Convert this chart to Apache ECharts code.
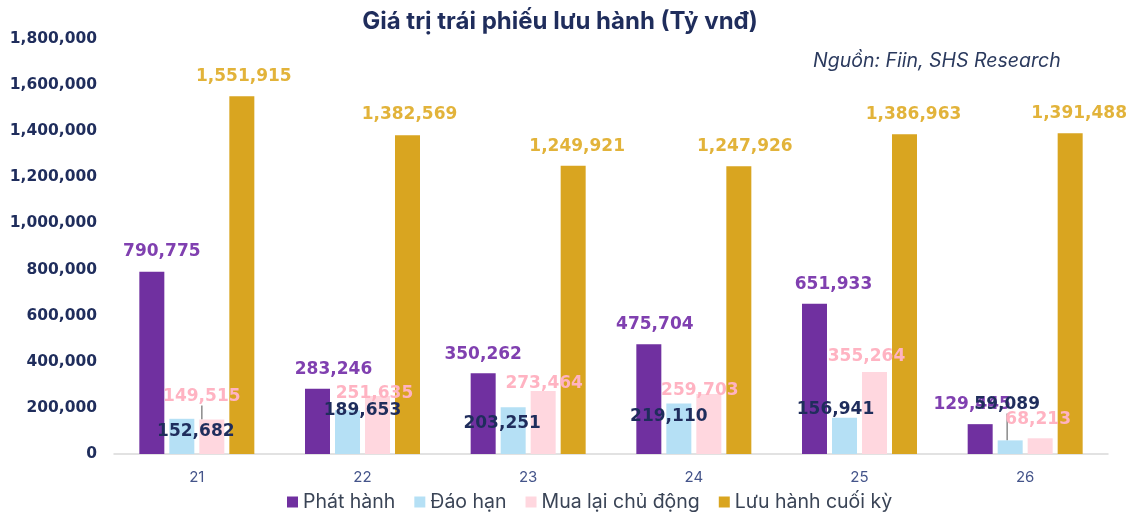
<!DOCTYPE html>
<html>
<head>
<meta charset="utf-8">
<script src="https://cdn.jsdelivr.net/npm/echarts@6/dist/echarts.min.js"></script>
<style>
  html, body { margin: 0; padding: 0; background: #fff; }
  #chart { width: 1134px; height: 518px; }
</style>
</head>
<body>
<div id="chart"></div>
<script>
// dữ liệu
const categories = ['21', '22', '23', '24', '25', '26'];
const phatHanh = [790775, 283246, 350262, 475704, 651933, 129445];
const daoHan = [152682, 189653, 203251, 219110, 156941, 59089];
const muaLai = [149515, 251635, 273464, 259703, 355264, 68213];
const luuHanh = [1551915, 1382569, 1249921, 1247926, 1386963, 1391488];
const yTicks = [0, 200000, 400000, 600000, 800000, 1000000, 1200000, 1400000, 1600000, 1800000];

// dịch nhãn (dx, dy) cho từng cột
const labelShift = [
  [[10, -12], [16, -11], [0, -10], [6, -11], [19, -11], [-8, -11]],
  [[14, 21], [15, 9], [-11, 25], [-10, 22], [-9, 0], [-3, -27]],
  [[-10, -14], [-3, 6], [1, 1], [-9, 5], [-8, -7], [-2, -10]],
  [[2, -11], [2, -12], [4, -11], [6, -11], [9, -11], [9, -11]]
];
const withLine = { '1-5': true, '2-0': true };

const chart = echarts.init(document.getElementById('chart'));
const fmt = v => Number(v).toLocaleString('en-US');
const font = 'Inter, Roboto, sans-serif';
const numFont = '"DejaVu Sans", Verdana, sans-serif';

function makeSeries(name, data, color, labelColor, idx) {
  return {
    name: name,
    type: 'bar',
    barWidth: 25,
    barGap: '20%',
    data: data.map((v, i) => ({
      value: v,
      labelLine: { show: !!withLine[idx + '-' + i] }
    })),
    itemStyle: { color: color },
    label: {
      show: true,
      position: 'top',
      distance: 0,
      color: labelColor,
      fontFamily: numFont,
      fontWeight: 'bold',
      fontSize: 17,
      formatter: p => fmt(p.value)
    },
    labelLine: {
      lineStyle: { color: '#8a8a8a', width: 1.5 }
    },
    labelLayout: function (p) {
      const s = labelShift[idx][p.dataIndex];
      return { dx: s[0], dy: s[1] };
    }
  };
}

const option = {
  backgroundColor: '#fff',
  animation: false,
  title: [
    {
      text: 'Giá trị trái phiếu lưu hành (Tỷ vnđ)',
      left: 555,
      textAlign: 'center',
      top: 5,
      textStyle: { color: '#1f2d5c', fontSize: 24, fontWeight: 'bold', fontFamily: font }
    },
    {
      text: 'Nguồn: Fiin, SHS Research',
      left: 808,
      top: 46,
      textStyle: { color: '#2b3a5e', fontSize: 19.5, fontStyle: 'italic', fontWeight: 'normal', fontFamily: font }
    }
  ],
  legend: {
    top: 492,
    left: 287,
    padding: 0,
    itemWidth: 11,
    itemHeight: 11,
    itemGap: 19,
    icon: 'rect',
    textStyle: { color: '#3a4456', fontSize: 19.5, fontFamily: font }
  },
  grid: { left: 114, right: 26, top: 39, bottom: 64 },
  xAxis: {
    type: 'category',
    data: categories,
    axisTick: { show: false },
    axisLine: { lineStyle: { color: '#d9d9d9', width: 1.5 } },
    axisLabel: { color: '#44548a', fontSize: 15, fontFamily: font, margin: 16 }
  },
  yAxis: {
    type: 'value',
    min: yTicks[0],
    max: yTicks[yTicks.length - 1],
    interval: yTicks[1] - yTicks[0],
    splitLine: { show: false },
    axisLine: { show: false },
    axisTick: { show: false },
    axisLabel: {
      color: '#1f2d5c',
      fontSize: 15.5,
      fontWeight: 'bold',
      fontFamily: numFont,
      margin: 17,
      formatter: v => fmt(v)
    }
  },
  series: [
    makeSeries('Phát hành', phatHanh, '#7030a0', '#8040b0', 0),
    makeSeries('Đáo hạn', daoHan, '#b5e0f5', '#1f2d5c', 1),
    makeSeries('Mua lại chủ động', muaLai, '#ffd7df', '#ffb3c2', 2),
    makeSeries('Lưu hành cuối kỳ', luuHanh, '#d9a520', '#e2b33a', 3)
  ]
};

chart.setOption(option);
</script>
</body>
</html>
